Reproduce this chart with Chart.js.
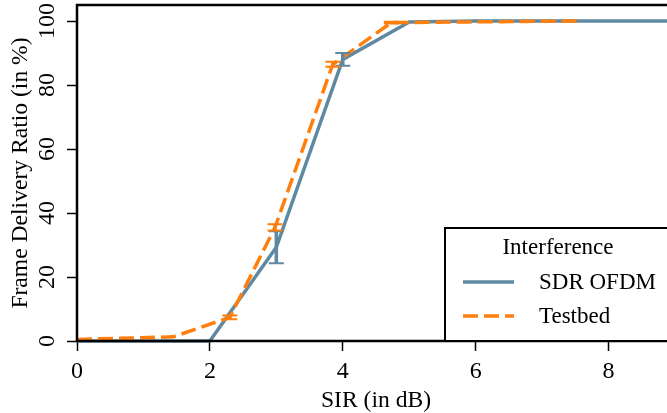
<!DOCTYPE html>
<html>
<head>
<meta charset="utf-8">
<script src="https://cdn.jsdelivr.net/npm/chart.js@4.4.1/dist/chart.umd.min.js"></script>
<style>
  html, body { margin: 0; padding: 0; background: #fff; overflow: hidden; }
  #wrap { width: 680px; height: 413px; }
</style>
</head>
<body>
<div id="wrap"><canvas id="fdrChart"></canvas></div>
<script>
// ================== DATA ==================
const sdrX = [0, 1, 2, 3, 4, 5, 6, 7, 8, 9];
const sdrY = [0, 0, 0, 29.3, 88, 99.7, 100, 100, 100, 100];
const sdrErr = [0, 0, 0, 5, 2, 0, 0, 0, 0, 0];

const testbedX = [0, 1.45, 2.3, 2.98, 3.85, 4.73, 7.53];
const testbedY = [0.5, 1.3, 7.4, 35.5, 86.5, 99.5, 100];
const testbedErr = [0, 0, 0.6, 1, 0.8, 0.3, 0];

const xTicks = [0, 2, 4, 6, 8];
const yTicks = [0, 20, 40, 60, 80, 100];

const seriesLabels = ["SDR OFDM", "Testbed"];
const legendTitle = "Interference";
const xTitle = "SIR (in dB)";
const yTitle = "Frame Delivery Ratio (in %)";

const BLUE = "#5f88a1";
const ORANGE = "#ff7f0e";
const FONT = "'Liberation Serif', 'DejaVu Serif', serif";

function toPoints(xs, ys) {
  return xs.map((x, i) => ({ x: x, y: ys[i] }));
}

// ================== PLUGINS ==================
// error bars, drawn from each dataset's errs list
const errorBars = {
  id: "errorBars",
  afterDatasetsDraw(chart) {
    const { ctx, scales } = chart;
    chart.data.datasets.forEach((ds) => {
      if (!ds.errs) return;
      ctx.save();
      ctx.strokeStyle = ds.borderColor;
      ds.data.forEach((p, i) => {
        const e = ds.errs[i];
        if (!e) return;
        const px = scales.x.getPixelForValue(p.x);
        const yTop = scales.y.getPixelForValue(p.y + e);
        const yBot = scales.y.getPixelForValue(p.y - e);
        ctx.lineWidth = 3.5;
        ctx.beginPath();
        ctx.moveTo(px, yTop);
        ctx.lineTo(px, yBot);
        ctx.stroke();
        ctx.lineWidth = 2;
        ctx.beginPath();
        ctx.moveTo(px - 7.5, yTop);
        ctx.lineTo(px + 7.5, yTop);
        ctx.moveTo(px - 7.5, yBot);
        ctx.lineTo(px + 7.5, yBot);
        ctx.stroke();
      });
      ctx.restore();
    });
  },
};

// frame and boxed legend
const frameAndLegend = {
  id: "frameAndLegend",
  afterDraw(chart) {
    const { ctx, chartArea } = chart;
    const { left, top, right, bottom } = chartArea;

    ctx.save();
    ctx.strokeStyle = "#000";
    ctx.lineWidth = 2.5;
    ctx.strokeRect(left, top, right - left, bottom - top);

    // legend box (lower right, runs past the crop)
    const bx = right - 230;
    const by = bottom - 113;
    ctx.fillStyle = "#fff";
    ctx.fillRect(bx, by, 260, 113);
    ctx.lineWidth = 2;
    ctx.strokeRect(bx, by, 260, 113);

    ctx.fillStyle = "#000";
    ctx.font = "23px " + FONT;
    ctx.textAlign = "center";
    ctx.textBaseline = "middle";
    ctx.fillText(legendTitle, bx + 113, by + 20);

    chart.data.datasets.forEach((ds, i) => {
      const ly = by + 54 + i * 34;
      ctx.strokeStyle = ds.borderColor;
      ctx.lineWidth = 3.5;
      ctx.setLineDash(ds.borderDash || []);
      ctx.beginPath();
      ctx.moveTo(bx + 18, ly);
      ctx.lineTo(bx + 69, ly);
      ctx.stroke();
      ctx.setLineDash([]);
      ctx.fillStyle = "#000";
      ctx.textAlign = "left";
      ctx.fillText(ds.label, bx + 94, ly + 1);
    });
    ctx.restore();
  },
};

// ================== CHART ==================
const ctx = document.getElementById("fdrChart");

new Chart(ctx, {
  type: "line",
  data: {
    datasets: [
      {
        label: seriesLabels[0],
        data: toPoints(sdrX, sdrY),
        errs: sdrErr,
        borderColor: BLUE,
        borderWidth: 3.5,
        pointRadius: 0,
        tension: 0,
        clip: 6,
        order: 2,
      },
      {
        label: seriesLabels[1],
        data: toPoints(testbedX, testbedY),
        errs: testbedErr,
        borderColor: ORANGE,
        borderWidth: 3.5,
        borderDash: [15, 6],
        pointRadius: 0,
        tension: 0,
        clip: 6,
        order: 1,
      },
    ],
  },
  options: {
    responsive: true,
    maintainAspectRatio: false,
    animation: false,
    layout: { padding: { left: 0, right: 5, top: 5, bottom: 0 } },
    plugins: {
      legend: { display: false },
      tooltip: { enabled: false },
    },
    scales: {
      x: {
        type: "linear",
        min: 0,
        max: 9,
        afterBuildTicks: (s) => { s.ticks = xTicks.map((v) => ({ value: v })); },
        afterFit: (s) => {
          s.height = 72;
          s.paddingLeft = 0;
          s.paddingRight = 0;
        },
        grid: { drawOnChartArea: false, tickLength: 10, tickColor: "#000", tickWidth: 1.5 },
        border: { display: false },
        ticks: { color: "#000", font: { family: FONT, size: 24 }, padding: 6, maxRotation: 0 },
        title: {
          display: true,
          text: xTitle,
          color: "#000",
          font: { family: FONT, size: 23.6, lineHeight: 1 },
          padding: { top: 0, bottom: 0 },
        },
      },
      y: {
        min: 0,
        max: 105,
        afterBuildTicks: (s) => { s.ticks = yTicks.map((v) => ({ value: v })); },
        afterFit: (s) => {
          s.width = 77;
          s.paddingTop = 0;
          s.paddingBottom = 0;
        },
        grid: { drawOnChartArea: false, tickLength: 10, tickColor: "#000", tickWidth: 1.5 },
        border: { display: false },
        ticks: {
          color: "#000",
          font: { family: FONT, size: 24 },
          minRotation: 90,
          maxRotation: 90,
          crossAlign: "center",
          padding: 1,
        },
        title: {
          display: true,
          text: yTitle,
          color: "#000",
          font: { family: FONT, size: 23.6 },
          padding: { top: 7, bottom: 0 },
        },
      },
    },
  },
  plugins: [errorBars, frameAndLegend],
});
</script>
</body>
</html>
